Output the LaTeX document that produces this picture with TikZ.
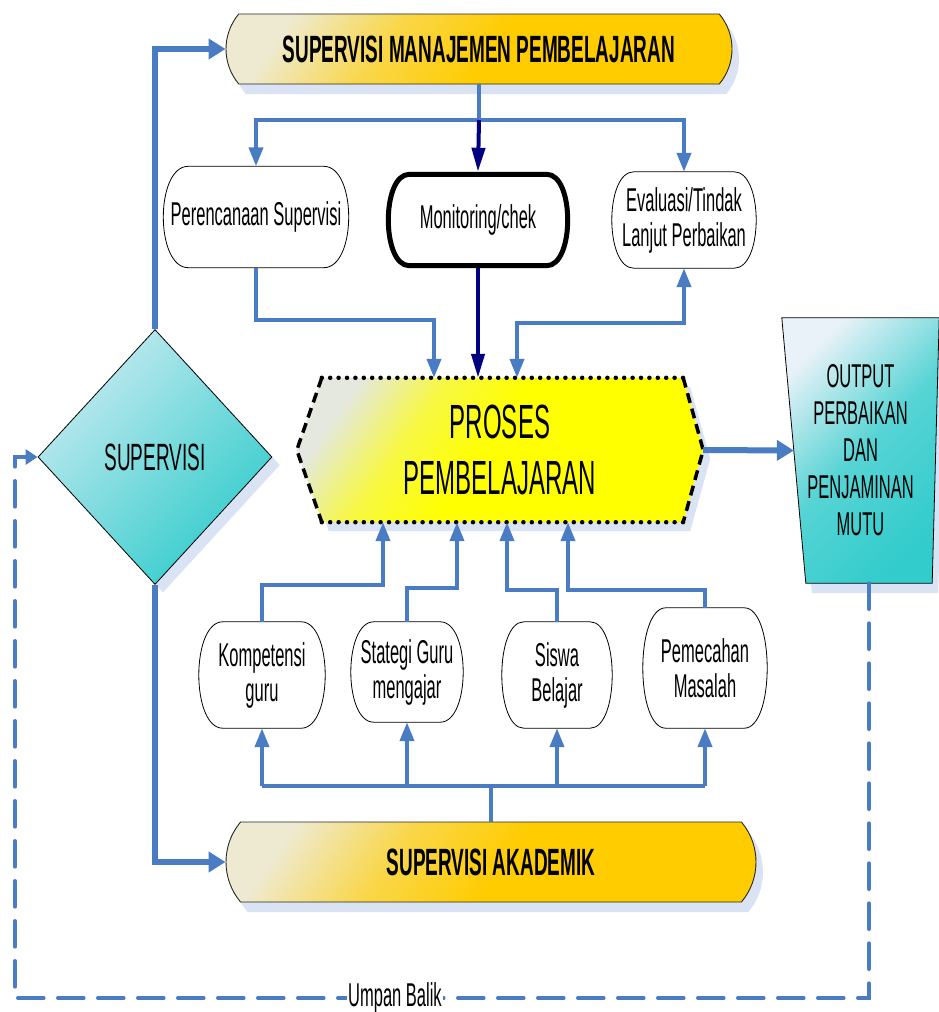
\documentclass[tikz,border=0pt]{standalone}
\usepackage{fontspec}
\setmainfont{Liberation Sans}[FakeStretch=0.5]
\usepackage{tikz}
\usetikzlibrary{calc,shapes.misc,shapes.geometric,arrows.meta,shadows,backgrounds}
\definecolor{linkblue}{RGB}{74,124,196}
\definecolor{linknavy}{RGB}{0,0,128}
\definecolor{goldlite}{RGB}{238,234,210}
\definecolor{goldfill}{RGB}{255,204,0}
\definecolor{teallite}{RGB}{196,234,240}
\definecolor{tealfill}{RGB}{51,204,204}
\definecolor{outlite}{RGB}{232,242,248}
\definecolor{yellowlite}{RGB}{228,232,222}
\definecolor{shadowblue}{RGB}{218,227,243}
\pgfdeclarehorizontalshading{goldfade}{100bp}{color(0bp)=(goldlite); color(24bp)=(goldlite); color(38bp)=(goldfill!65!goldlite); color(52bp)=(goldfill); color(100bp)=(goldfill)}
\pgfdeclarehorizontalshading{procfade}{100bp}{color(0bp)=(yellowlite); color(24bp)=(yellowlite); color(36bp)=(yellow!70!yellowlite); color(48bp)=(yellow); color(100bp)=(yellow)}
% outline with half-elliptic sides round node #2, side depth #3
\newcommand{\bulgebox}[3][]{%
  \draw [line width=0.8pt, #1] ($(#2.north west)+(#3,0)$) -- ($(#2.north east)+(-#3,0)$)
    .. controls ($(#2.north east)+(#3/3,0)$) and ($(#2.south east)+(#3/3,0)$) .. ($(#2.south east)+(-#3,0)$)
    -- ($(#2.south west)+(#3,0)$)
    .. controls ($(#2.south west)+(-#3/3,0)$) and ($(#2.north west)+(-#3/3,0)$) .. cycle;}

\begin{document}
\begin{tikzpicture}[x=1pt,y=-1pt,
    every node/.style={align=center},
    headbox/.style={rounded rectangle, rounded rectangle arc length=80, draw=black!85, line width=0.9pt,
      shade, shading=goldfade, shading angle=-35,
      drop shadow={shadow xshift=7pt, shadow yshift=-10pt, fill=shadowblue, opacity=1},
      inner sep=0pt, font=\fontsize{38}{40}\selectfont\bfseries},
    itembox/.style={inner sep=0pt, font=\fontsize{33}{35}\selectfont},
    link/.style={draw=linkblue, line width=4pt},
    tip/.style={-{Triangle[length=19pt,width=14pt]}},
    navylink/.style={draw=linknavy, line width=4pt, -{Triangle[length=24pt,width=13pt]}},
    trunk/.style={draw=linkblue, line width=5.5pt, -{Triangle[length=17pt,width=20pt]}},
    feedback/.style={draw=linkblue, line width=3.5pt, line cap=round, dash pattern=on 26pt off 14pt,
      -{Triangle[length=12pt,width=15pt]}},
    dotrim/.style={line width=4.5pt, line cap=round, dash pattern=on 0pt off 8.4pt},
    dashrim/.style={line width=3.5pt, dash pattern=on 10pt off 6pt}]
  \useasboundingbox (0,0) rectangle (939,1012);

  % boxes
  \node [headbox, minimum width=506pt, minimum height=70pt] (mgmt) at (479,49) {SUPERVISI MANAJEMEN PEMBELAJARAN};
  \node [headbox, minimum width=530pt, minimum height=80pt] (akad) at (491,862) {SUPERVISI AKADEMIK};

  \node [itembox, minimum width=185pt, minimum height=101pt] (plan) at (256,217) {Perencanaan Supervisi};
  \node [itembox, minimum width=179pt, minimum height=91pt] (monitor) at (478,220) {Monitoring/chek};
  \node [itembox, minimum width=144pt, minimum height=96pt] (eval) at (684,220) {Evaluasi/Tindak\\Lanjut Perbaikan};
  \bulgebox{plan}{25}
  \bulgebox[line width=5pt]{monitor}{21}
  \bulgebox{eval}{22}

  \node [itembox, minimum width=126pt, minimum height=106pt] (komp) at (262,675) {Kompetensi\\guru};
  \node [itembox, minimum width=112pt, minimum height=100pt] (strat) at (407,672) {Stategi Guru\\mengajar};
  \node [itembox, minimum width=110pt, minimum height=106pt] (siswa) at (557,675) {Siswa\\Belajar};
  \node [itembox, minimum width=124pt, minimum height=120pt] (masalah) at (705,668) {Pemecahan\\Masalah};
  \bulgebox{komp}{24}
  \bulgebox{strat}{23}
  \bulgebox{siswa}{22}
  \bulgebox{masalah}{23}

  \node [diamond, draw=black, line width=0.8pt, top color=teallite, bottom color=tealfill, shading angle=45,
    drop shadow={shadow xshift=8pt, shadow yshift=-8pt, fill=shadowblue, opacity=1},
    minimum width=234pt, minimum height=255pt, inner sep=0pt, font=\fontsize{38}{40}\selectfont] (superv) at (155,457) {SUPERVISI};

  % output
  \node [minimum width=157pt, minimum height=265pt, inner sep=0pt, font=\fontsize{33}{37}\selectfont] (output) at (860.5,450.5) {OUTPUT\\PERBAIKAN\\DAN\\PENJAMINAN\\MUTU};
  \coordinate (oBL) at ($(output.south west)+(24,0)$);
  \coordinate (oBR) at ($(output.south east)+(-7,0)$);
  \coordinate (outin) at ($(output.north west)!0.5!(oBL)$);
  \coordinate (outfoot) at ($(oBL)!0.5!(oBR)$);

  % proses
  \node [minimum width=406pt, minimum height=144pt, inner sep=0pt, font=\fontsize{48}{56}\selectfont] (proses) at (500,450) {PROSES\\PEMBELAJARAN};
  \coordinate (hNW) at ($(proses.north west)+(25,0)$);
  \coordinate (hNE) at ($(proses.north east)+(-20,0)$);
  \coordinate (hSE) at ($(proses.south east)+(-20,0)$);
  \coordinate (hSW) at ($(proses.south west)+(25,0)$);

  \begin{scope}[on background layer]
    \fill [shadowblue, transform canvas={shift={(7pt,-9pt)}}] (hNW) -- (hNE) -- (proses.east) -- (hSE) -- (hSW) -- (proses.west) -- cycle;
    \shade [shading=procfade, shading angle=-35] (hNW) -- (hNE) -- (proses.east) -- (hSE) -- (hSW) -- (proses.west) -- cycle;
    \fill [shadowblue, transform canvas={shift={(6pt,-10pt)}}] (output.north west) -- (output.north east) -- (oBR) -- (oBL) -- cycle;
    \shade [top color=outlite, bottom color=tealfill, middle color=tealfill!80!outlite, shading angle=45] (output.north west) -- (output.north east) -- (oBR) -- (oBL) -- cycle;
  \end{scope}
  \draw [line width=0.8pt] (output.north west) -- (output.north east) -- (oBR) -- (oBL) -- cycle;
  \draw [dotrim] (hNW) -- (hNE);
  \draw [dotrim] (hSW) -- (hSE);
  \draw [dashrim] (hNE) -- (proses.east) -- (hSE);
  \draw [dashrim] (hNW) -- (proses.west) -- (hSW);

  % top branch
  \coordinate (split) at (479,120);
  \draw [link] (mgmt.south) -- (split);
  \draw [link,tip] (split) -| (plan.north);
  \draw [link,tip] (split) -| (eval.north);
  \draw [navylink] (split) -- ($(monitor.north)+(0,-2.5)$);

  \coordinate (planbend) at (434,320);
  \coordinate (evalbend) at (517,323);
  \draw [link,tip] (plan.south) |- (planbend) -- (planbend |- proses.north);
  \draw [navylink] ($(monitor.south)+(0,2.5)$) -- (monitor.south |- proses.north);
  \draw [link,{Triangle[length=19pt,width=14pt]}-{Triangle[length=19pt,width=14pt]}] (evalbend |- proses.north) -- (evalbend) -| (eval.south);

  % bottom branch
  \coordinate (hub) at (491,786);
  \draw [link] (akad.north) -- (hub);
  \draw [link] (komp.south |- hub) -- (masalah.south |- hub);
  \draw [link,tip] (komp.south |- hub) -- (komp.south);
  \draw [link,tip] (strat.south |- hub) -- (strat.south);
  \draw [link,tip] (siswa.south |- hub) -- (siswa.south);
  \draw [link,tip] (masalah.south |- hub) -- (masalah.south);

  \coordinate (kompbend) at (383,585);
  \coordinate (stratbend) at (457,588);
  \coordinate (siswabend) at (507,590);
  \coordinate (masalahbend) at (568,590);
  \draw [link,tip] (komp.north) |- (kompbend) -- (kompbend |- proses.south);
  \draw [link,tip] (strat.north) |- (stratbend) -- (stratbend |- proses.south);
  \draw [link,tip] (siswa.north) |- (siswabend) -- (siswabend |- proses.south);
  \draw [link,tip] (masalah.north) |- (masalahbend) -- (masalahbend |- proses.south);

  % supervisi and output
  \draw [trunk] (superv.north) |- (mgmt.west);
  \draw [trunk] (superv.south) |- (akad.west);
  \draw [trunk, line width=6pt] (proses.east) -- (outin);

  \coordinate (fbturn) at (15,998);
  \draw [feedback] (outfoot) |- (fbturn) |- (superv.west);
  \node [fill=white, inner sep=1pt, font=\fontsize{33}{35}\selectfont] (umpan) at (395,998) {Umpan Balik};
\end{tikzpicture}
\end{document}
